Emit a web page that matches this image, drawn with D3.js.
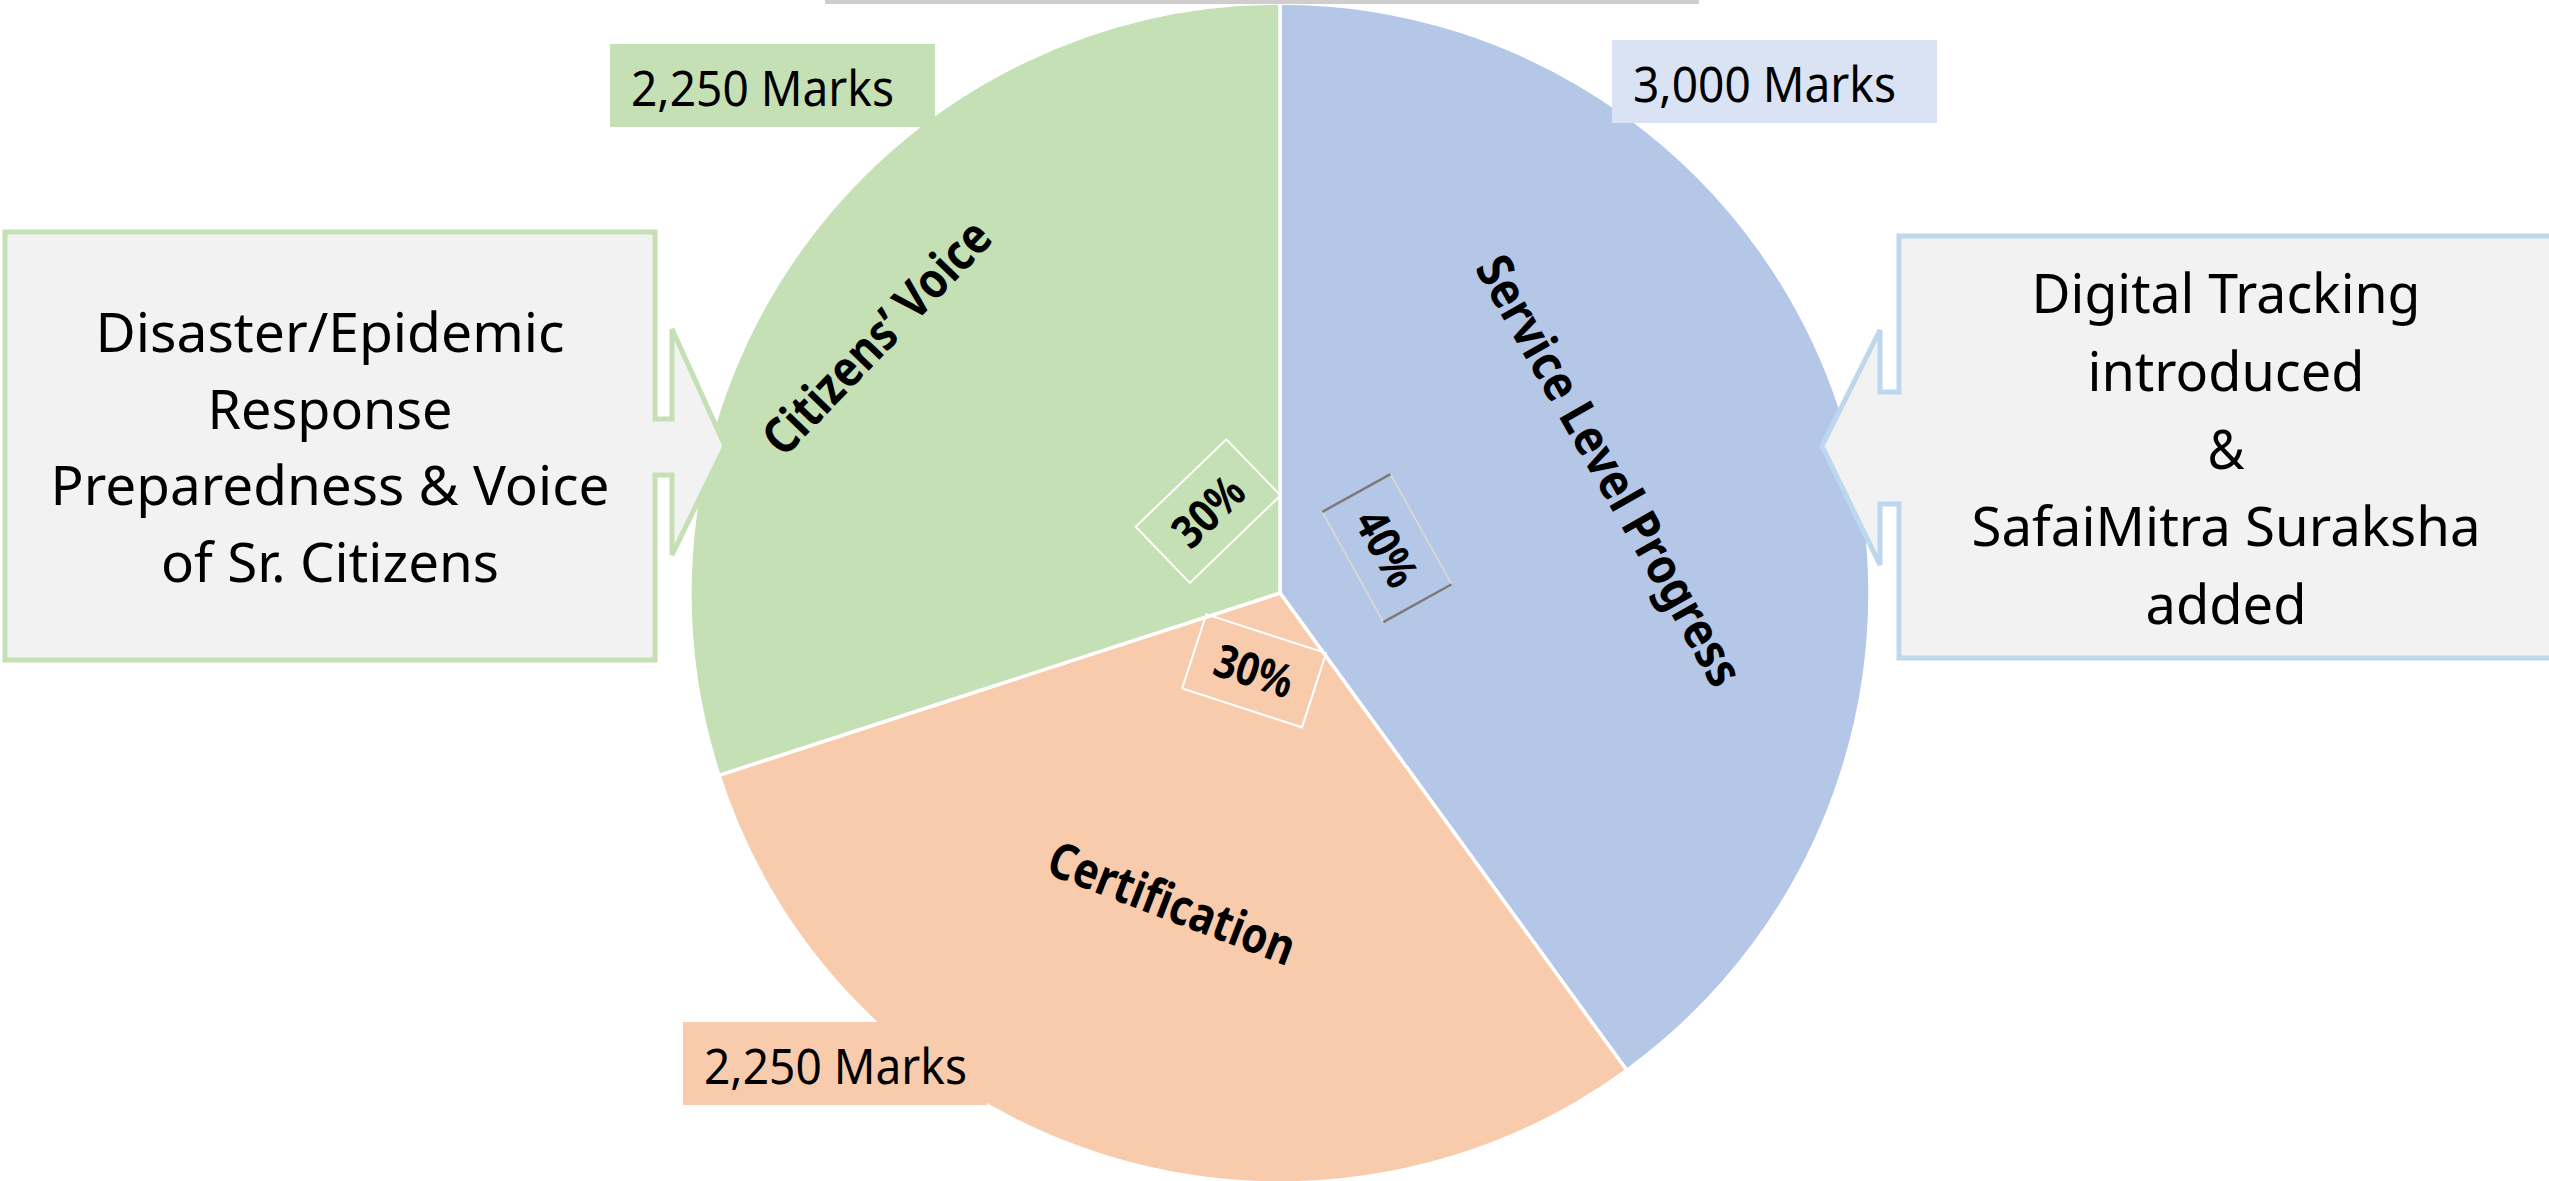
<!DOCTYPE html>
<meta charset="utf-8">

<head>
    <style>
    body { margin: 0; background: #fff; }
    svg text { font-family: "Noto Sans", "Open Sans", sans-serif; fill: #000; }
    </style>
</head>

<body>
<!--Get d3 source-->
<script src="https://d3js.org/d3.v7.min.js"></script>

<script>
//Data
var categories = ["Service Level Progress", "Certification", "Citizens’ Voice"];
var shares = [40, 30, 30];
var pctLabels = ["40%", "30%", "30%"];
var marksLabels = ["3,000 Marks", "2,250 Marks", "2,250 Marks"];
var leftNote = ["Disaster/Epidemic", "Response", "Preparedness & Voice", "of Sr. Citizens"];
var rightNote = ["Digital Tracking", "introduced", "&", "SafaiMitra Suraksha", "added"];

//Colours
var sliceColors = ["#B4C7E7", "#F8CBAD", "#C5E0B4"];
var marksColors = ["#DAE3F3", "#F8CBAD", "#C5E0B4"];

//Size parameters
var width = 2549, height = 1181,
    cx = 1280, cy = 593, radius = 590;

//Label layout (radius, angle offset from slice middle in degrees, rotation, length)
var nameR = [352, 328, 478], nameOff = [-2.4, 1.2, -3.6], nameRot = [60.4, 21, -46], nameLen = [486, 260, 304];
var pctR = [116, 82, 109], pctOff = [-4.8, 0.4, 12.7], pctRot = [61, 18, -44];
var marksBox = [[1612, 40, 325], [683, 1022, 304], [610, 44, 325]];

//Create svg
var svg = d3.select("body").append("svg")
    .attr("width", width)
    .attr("height", height);

var pie = d3.pie().sort(null).value(function(d) { return d; });
var arcs = pie(shares);
var arc = d3.arc().innerRadius(0).outerRadius(radius);

var g = svg.append("g")
    .attr("transform", "translate(" + cx + "," + cy + ")");

//Slices
g.selectAll("path.slice")
    .data(arcs)
    .enter().append("path")
    .attr("class", "slice")
    .attr("d", arc)
    .style("fill", function(d, i) { return sliceColors[i]; })
    .style("stroke", "#fff")
    .style("stroke-width", 3.5)
    .style("stroke-linejoin", "miter");

function midAngle(d, off) {
    return (d.startAngle + d.endAngle) / 2 + off * Math.PI / 180;
}

//Category names
g.selectAll("text.name")
    .data(arcs)
    .enter().append("text")
    .attr("class", "name")
    .attr("transform", function(d, i) {
        var p = d3.pointRadial(midAngle(d, nameOff[i]), nameR[i]);
        return "translate(" + p[0] + "," + p[1] + ") rotate(" + nameRot[i] + ")";
    })
    .attr("text-anchor", "middle")
    .attr("dy", "0.36em")
    .style("font-size", "50px")
    .style("font-weight", "bold")
    .attr("textLength", function(d, i) { return nameLen[i]; })
    .attr("lengthAdjust", "spacingAndGlyphs")
    .text(function(d, i) { return categories[i]; });

//Percentage boxes
var pg = g.selectAll("g.pct")
    .data(arcs)
    .enter().append("g")
    .attr("class", "pct")
    .attr("transform", function(d, i) {
        var p = d3.pointRadial(midAngle(d, pctOff[i]), pctR[i]);
        return "translate(" + p[0] + "," + p[1] + ") rotate(" + pctRot[i] + ")";
    });

pg.append("rect")
    .attr("x", -63).attr("y", -39)
    .attr("width", 126).attr("height", 78)
    .style("fill", "none")
    .style("stroke", function(d, i) { return i === 0 ? "#d6d6d6" : "#fff"; })
    .style("stroke-width", 2);

//bevel edges on the 40% box
pg.filter(function(d, i) { return i === 0; })
    .selectAll("line")
    .data([-63, 63])
    .enter().append("line")
    .attr("x1", function(d) { return d; }).attr("x2", function(d) { return d; })
    .attr("y1", -39).attr("y2", 39)
    .style("stroke", "#7a7a7a")
    .style("stroke-width", 2.5);

pg.append("text")
    .attr("text-anchor", "middle")
    .attr("dy", "0.36em")
    .style("font-size", "46px")
    .style("font-weight", "bold")
    .attr("textLength", 80)
    .attr("lengthAdjust", "spacingAndGlyphs")
    .text(function(d, i) { return pctLabels[i]; });

//Marks boxes
var mg = svg.selectAll("g.marks")
    .data(marksLabels)
    .enter().append("g")
    .attr("class", "marks")
    .attr("transform", function(d, i) { return "translate(" + marksBox[i][0] + "," + marksBox[i][1] + ")"; });

mg.append("rect")
    .attr("width", function(d, i) { return marksBox[i][2]; })
    .attr("height", 83)
    .style("fill", function(d, i) { return marksColors[i]; });

mg.append("text")
    .attr("x", 21)
    .attr("y", 62)
    .style("font-size", "50px")
    .attr("textLength", 263)
    .attr("lengthAdjust", "spacingAndGlyphs")
    .text(function(d) { return d; });

//Grey bar at the top
svg.append("rect")
    .attr("x", 825).attr("y", 0)
    .attr("width", 874).attr("height", 4)
    .style("fill", "#CFCDCD");

//Callout shapes
var leftPath = "M5,232 L655,232 L655,419 L672,419 L672,329 L725,446 L672,555 L672,475 L655,475 L655,660 L5,660 Z";
var rightPath = "M2556,236 L1899,236 L1899,392 L1880,392 L1880,330 L1822,446 L1880,565 L1880,504 L1899,504 L1899,658 L2556,658 Z";

svg.append("path")
    .attr("d", leftPath)
    .style("fill", "#F2F2F2")
    .style("stroke", "#C5E0B4")
    .style("stroke-width", 5);

svg.append("path")
    .attr("d", rightPath)
    .style("fill", "#F2F2F2")
    .style("stroke", "#BDD7EE")
    .style("stroke-width", 5);

//Callout text
var leftLen = [469, 245, 559, 338];
var rightLen = [389, 277, 37, 509, 161];

svg.selectAll("text.lnote")
    .data(leftNote)
    .enter().append("text")
    .attr("class", "lnote")
    .attr("x", 330)
    .attr("y", function(d, i) { return 352 + i * 76.7; })
    .attr("text-anchor", "middle")
    .style("font-size", "54px")
    .attr("textLength", function(d, i) { return leftLen[i]; })
    .attr("lengthAdjust", "spacingAndGlyphs")
    .text(function(d) { return d; });

svg.selectAll("text.rnote")
    .data(rightNote)
    .enter().append("text")
    .attr("class", "rnote")
    .attr("x", 2226)
    .attr("y", function(d, i) { return 313 + i * 77.75; })
    .attr("text-anchor", "middle")
    .style("font-size", "54px")
    .attr("textLength", function(d, i) { return rightLen[i]; })
    .attr("lengthAdjust", "spacingAndGlyphs")
    .text(function(d) { return d; });
</script>
</body>
